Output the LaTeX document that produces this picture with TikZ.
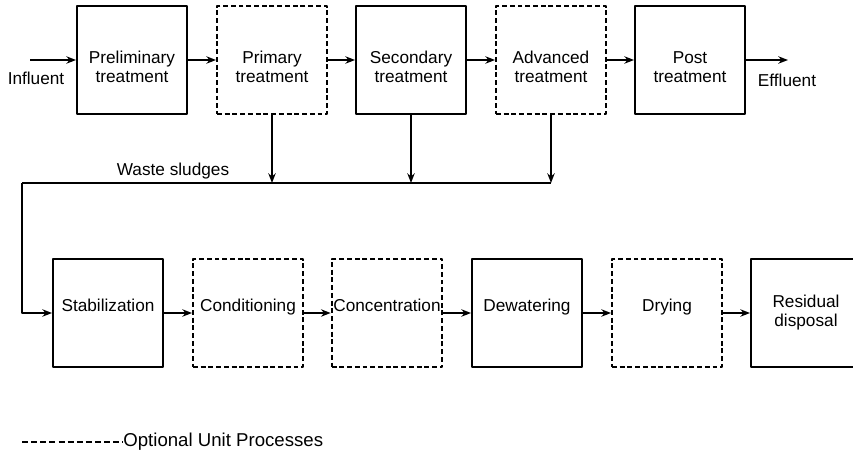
\documentclass[tikz,border=0pt]{standalone}
\usepackage{fontspec}
\setmainfont{Liberation Sans}
\usetikzlibrary{arrows.meta}

\begin{document}
\begin{tikzpicture}[x=0.02cm, y=-0.02cm, line join=round, >={Stealth[length=5.5pt,width=4.2pt]}, font=\fontsize{9.8pt}{10.8pt}\selectfont,
	unit/.style={draw, line width=1.1pt, minimum width=2.2cm, minimum height=2.16cm, align=center, inner sep=1pt},
	optional/.style={unit, dash pattern=on 2.8pt off 1.6pt},
	upper/.style={text height=7pt, text depth=9pt},
	lower/.style={text height=25.5pt},
	flow/.style={->, line width=1pt}]

	% Khung hình
	\clip (0,0) rectangle (853,453);

	% Hàng trên: các bậc xử lý nước thải
	\node[unit, lower] (pre) at (132,60) {Preliminary\\treatment};
	\node[optional, lower] (pri) at (272,60) {Primary\\treatment};
	\node[unit, lower] (sec) at (411,60) {Secondary\\treatment};
	\node[optional, lower] (adv) at (551,60) {Advanced\\treatment};
	\node[unit, lower] (post) at (690,60) {Post\\treatment};

	% Hàng dưới: xử lý bùn
	\node[unit, upper] (stab) at (108,313) {Stabilization};
	\node[optional, upper] (cond) at (248,313) {Conditioning};
	\node[optional, upper] (conc) at (387,313) {Concentration};
	\node[unit, upper] (dew) at (527,313) {Dewatering};
	\node[optional, upper] (dry) at (667,313) {Drying};
	\node[unit] (res) at (806,313) {Residual\\disposal};

	% Đầu vào, đầu ra
	\coordinate (in) at (30,60);
	\coordinate (out) at (788,60);
	\draw[flow] (in) -- (pre);
	\draw[flow] (post) -- (out);
	\node (inf) at (36,78) {Influent};
	\node (eff) at (787,80) {Effluent};

	% Các mũi tên giữa các khối
	\foreach \a/\b in {pre/pri, pri/sec, sec/adv, adv/post, stab/cond, cond/conc, conc/dew, dew/dry, dry/res} {
		\draw[flow] (\a) -- (\b);
	}

	% Đường bùn thải
	\coordinate (ws) at (22,183);
	\coordinate (wsend) at (adv.south |- ws);
	\draw[line width=1pt] (ws) -- (wsend);
	\foreach \n in {pri, sec, adv} {
		\draw[flow] (\n.south) -- (\n.south |- ws);
	}
	\draw[flow] (ws) |- (stab.west);
	\node (sludge) at (173,171) {Waste sludges};

	% Chú thích
	\node[anchor=west, inner sep=0pt, font=\fontsize{10.6pt}{12pt}\selectfont] (legend) at (123,442) {Optional Unit Processes};
	\coordinate (ls) at (22,442);
	\draw[line width=1.3pt, dash pattern=on 3.4pt off 1.8pt] (ls) -- (legend.west);

\end{tikzpicture}
\end{document}
